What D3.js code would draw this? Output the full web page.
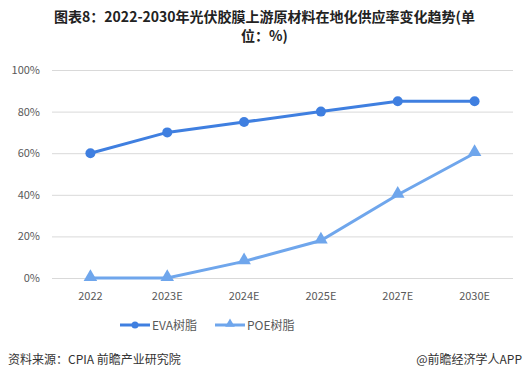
<!DOCTYPE html>
<html><head><meta charset="utf-8">
<script src="https://cdn.jsdelivr.net/npm/d3@7"></script>
<style>body{margin:0;background:#fff}svg{display:block}</style>
</head><body>
<svg id="c" width="529" height="381"></svg>
<script>
const categories = ["2022","2023E","2024E","2025E","2027E","2030E"];
const evaValues = [60,70,75,80,85,85];
const poeValues = [0,0,8,18,40,60];
const yTicks = [0,20,40,60,80,100];
const seriesNames = ["EVA树脂","POE树脂"];
const titleLines = ["图表8：2022-2030年光伏胶膜上游原材料在地化供应率变化趋势(单","位：%)"];

(function(){
const svg = d3.select("#c");
const font = "'Noto Sans CJK SC','Microsoft YaHei',sans-serif";
const pL = 52, pR = 513, pT = 70, pB = 278;
const x = d3.scaleBand().domain(categories).range([pL, pR]);
const y = d3.scaleLinear().domain([0,100]).range([pB, pT]);

svg.append("g").selectAll("text").data(titleLines).join("text")
  .attr("x", 264.5).attr("y", (d,i)=>22 + i*19)
  .attr("text-anchor","middle").attr("font-family", font)
  .attr("font-size", 14).attr("font-weight","bold").attr("fill","#222")
  .text(d=>d);

const yAxis = d3.axisLeft(y).tickValues(yTicks).tickSize(-(pR-pL)).tickFormat(d=>d+"%");
const gy = svg.append("g").attr("transform",`translate(${pL},0)`).call(yAxis);
gy.select(".domain").remove();
gy.selectAll(".tick line").attr("stroke","#d9d9d9").attr("stroke-width",1);
gy.selectAll(".tick text").attr("x",-12).attr("fill","#595959").attr("font-size",11).attr("font-family",font);

const xAxis = d3.axisBottom(x).tickSize(0);
const gx = svg.append("g").attr("transform",`translate(0,${pB})`).call(xAxis);
gx.select(".domain").remove();
gx.selectAll(".tick text").attr("dy",0).attr("y",22).attr("fill","#595959").attr("font-size",11).attr("font-family",font);

const cx = d => x(d) + x.bandwidth()/2;
const line = d3.line().x((d,i)=>cx(categories[i])).y(d=>y(d));

const evaColor = "#3f7fe0", poeColor = "#6fa6ec";
svg.append("path").datum(evaValues).attr("d",line).attr("fill","none").attr("stroke",evaColor).attr("stroke-width",3);
svg.append("path").datum(poeValues).attr("d",line).attr("fill","none").attr("stroke",poeColor).attr("stroke-width",3);

svg.append("g").selectAll("circle").data(evaValues).join("circle")
  .attr("cx",(d,i)=>cx(categories[i])).attr("cy",d=>y(d)).attr("r",5).attr("fill",evaColor);

const tri = d3.symbol().type(d3.symbolTriangle).size(80);
svg.append("g").selectAll("path").data(poeValues).join("path")
  .attr("d",tri).attr("transform",(d,i)=>`translate(${cx(categories[i])},${y(d)-1})`).attr("fill",poeColor);

const leg = svg.append("g").attr("font-family",font).attr("font-size",12).attr("fill","#595959");
const legItems = [{name:seriesNames[0],c:evaColor,t:"c",x0:120},{name:seriesNames[1],c:poeColor,t:"t",x0:215}];
legItems.forEach(it=>{
  leg.append("line").attr("x1",it.x0).attr("x2",it.x0+30).attr("y1",325).attr("y2",325).attr("stroke",it.c).attr("stroke-width",3);
  if(it.t==="c") leg.append("circle").attr("cx",it.x0+15).attr("cy",325).attr("r",3.5).attr("fill",it.c);
  else leg.append("path").attr("d",d3.symbol().type(d3.symbolTriangle).size(40)).attr("transform",`translate(${it.x0+15},324)`).attr("fill",it.c);
  leg.append("text").attr("x",it.x0+32).attr("y",329.5).text(it.name);
});

svg.append("text").attr("x",8).attr("y",364).attr("font-family",font).attr("font-size",12).attr("fill","#333").text("资料来源：CPIA 前瞻产业研究院");
svg.append("text").attr("x",522).attr("y",364).attr("text-anchor","end").attr("font-family",font).attr("font-size",12).attr("fill","#333").text("@前瞻经济学人APP");
})();
</script>
</body></html>
